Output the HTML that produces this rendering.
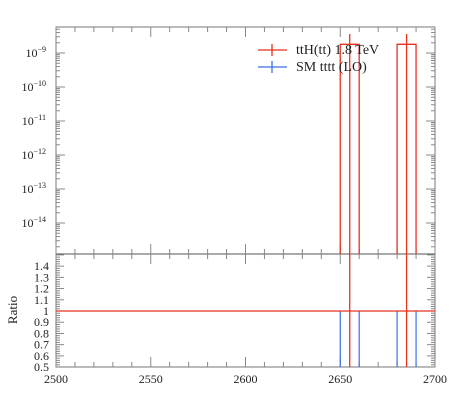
<!DOCTYPE html>
<html><head><meta charset="utf-8"><style>
body{margin:0;background:#fff}
text{font-family:"Liberation Serif",serif;fill:#222}
</style></head><body>
<svg id="c" width="450" height="406"></svg>
<script>
const edges=[2650,2660,2680,2690];
const binLo=[2650,2680];
const binHi=[2660,2690];
const sigVals=[1.8e-9,1.8e-9];
const centers=[2655,2685];
const xTicks=[2500,2550,2600,2650,2700];
const logTicks=[-9,-10,-11,-12,-13,-14];
const ratioTicks=[1.4,1.3,1.2,1.1,1,0.9,0.8,0.7,0.6,0.5];
const ratioLabels=["1.4","1.3","1.2","1.1","1","0.9","0.8","0.7","0.6","0.5"];
const svg=document.getElementById('c');
const NS='http://www.w3.org/2000/svg';
const L=56,R=435,T=27,M=254,B=367;
const X=v=>L+(v-2500)/200*(R-L);
const YL=v=>53-(Math.log10(v)+9)*34;
const YR=v=>311-(v-1)*112.2;
function el(t,a,name){const e=document.createElementNS(NS,t);for(const k in a)e.setAttribute(k,a[k]);


svg.appendChild(e);return e;}
function ln(x1,y1,x2,y2,c,w,n){return el('line',{x1,y1,x2,y2,stroke:c,'stroke-width':w},n);}
el('rect',{x:L,y:T,width:R-L,height:B-T,fill:'none',stroke:'#777','stroke-width':1},'plot-frame');
ln(L,M,R,M,'#555',1,'panel-divider');
for(let v=2500;v<=2700;v+=10){const maj=v%50==0,h=maj?10:5;const x=X(v);
[T,M].forEach(y=>ln(x,y,x,y+h,'#888',1,'x-tick'));[M,B].forEach(y=>ln(x,y,x,y-h,'#888',1,'x-tick'));}
xTicks.forEach(v=>{const t=el('text',{x:X(v),y:383,'font-size':12,'text-anchor':'middle'},'x-tick-label');t.textContent=v;});
for(let d=-15;d<=-9;d++){for(let m=1;m<10;m++){const v=m*Math.pow(10,d),y=YL(v);if(y<T||y>M)continue;const h=m==1?9:4;
ln(L,y,L+h,y,'#888',1,'y-tick');ln(R,y,R-h,y,'#888',1,'y-tick');}}
logTicks.forEach(d=>{const t=el('text',{x:46,y:YL(Math.pow(10,d))+4,'font-size':12,'text-anchor':'end'},'y-tick-label');
t.innerHTML='10<tspan dy="-5" font-size="8">−'+(-d)+'</tspan>';});
for(let k=25;k<=75;k++){const v=k*0.02;const y=YR(v);if(y<M||y>B)continue;const maj=k%5==0;const h=maj?8:4;
ln(L,y,L+h,y,'#888',1,'ratio-tick');ln(R,y,R-h,y,'#888',1,'ratio-tick');}
ratioTicks.forEach((v,i)=>{const t=el('text',{x:49,y:YR(v)+4,'font-size':12,'text-anchor':'end'},'ratio-tick-label');t.textContent=ratioLabels[i];});
const rt=el('text',{x:17,y:310,'font-size':13,'text-anchor':'middle',transform:'rotate(-90 17 310)'},'ratio-axis-title');rt.textContent='Ratio';
binLo.forEach((lo,i)=>{const y=YL(sigVals[i]);
el('path',{d:`M${X(lo)},${M}V${y}H${X(binHi[i])}V${M}`,fill:'none',stroke:'#e8321e','stroke-width':1.3},'signal-bin');});
centers.forEach(c=>{ln(X(c),34,X(c),M,'#e8321e',1.3,'signal-error-bar');ln(X(c),M,X(c),B,'#e8321e',1.3,'ratio-error-bar');});
edges.forEach(e=>ln(X(e),YR(1),X(e),B,'#3a6ee8',1.2,'sm-ratio-edge'));
ln(L,YR(1),R,YR(1),'#e8321e',1.3,'ratio-unity-line');
ln(258,50,287,50,'#e8321e',1.3,'legend-signal-line');ln(272,44,272,56,'#e8321e',1.3,'legend-signal-bar');
ln(258,67,287,67,'#3a6ee8',1.3,'legend-sm-line');ln(272,61,272,73,'#3a6ee8',1.3,'legend-sm-bar');
let t=el('text',{x:296,y:54,'font-size':14},'legend-signal-label');t.textContent='ttH(tt) 1.8 TeV';
t=el('text',{x:296,y:71,'font-size':14},'legend-sm-label');t.textContent='SM tttt (LO)';
</script>
</body></html>
